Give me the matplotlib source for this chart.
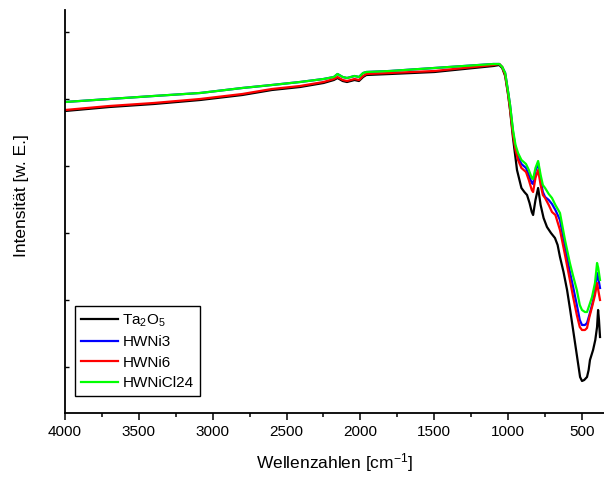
import matplotlib
matplotlib.use('Agg')
import matplotlib.pyplot as plt
from matplotlib.ticker import MultipleLocator, FixedLocator

plt.rcParams['font.family'] = 'Liberation Sans'
plt.rcParams['mathtext.fontset'] = 'custom'
plt.rcParams['mathtext.rm'] = 'Liberation Sans'
plt.rcParams['mathtext.it'] = 'Liberation Sans'

# wavenumbers [cm-1] and intensities (arbitrary units)
wn_hi = [4000, 3700, 3400, 3086, 2800, 2600, 2409, 2250, 2180, 2155, 2120, 2091,
         2040, 2010, 1982, 1960, 1800, 1500, 1300, 1100, 1060, 1040, 1020, 1000, 987]
ta_hi = [302, 306, 309, 313, 318, 323, 326, 330, 333, 335, 332, 331,
         333, 332, 336, 338, 339, 341, 344, 347, 348, 345, 337, 318, 303]
ni_hi = [311, 314, 317, 320, 325, 328, 331, 334, 336, 339, 336, 335,
         337, 336, 340, 341, 342, 345, 347, 349, 349, 346, 340, 321, 308]

wn_ta = [967, 950, 940, 910, 890, 872, 855, 840, 831, 815, 797, 780, 760, 737,
         710, 683, 665, 649, 625, 601, 580, 560, 535, 513, 500, 485, 466, 455,
         446, 425, 410, 398, 391, 385, 378]
ta_lo = [275, 255, 243, 225, 221, 218, 210, 201, 198, 213, 225, 208, 195, 186,
         180, 175, 168, 156, 141, 123, 103, 83, 58, 36, 32, 33, 36, 43,
         53, 63, 73, 86, 103, 93, 76]

wn_ni = [967, 950, 933, 910, 879, 860, 840, 831, 815, 797, 780, 765, 750, 725,
         703, 680, 649, 615, 582, 560, 535, 515, 500, 480, 466, 450, 432, 412,
         398, 390, 378]
hwni3 = [281, 265, 256, 249, 245, 238, 230, 229, 242, 250, 233, 221, 216, 213,
         209, 203, 193, 166, 141, 126, 108, 93, 88, 88, 90, 98, 108, 121,
         140, 135, 125]
hwni6 = [278, 263, 253, 245, 241, 233, 223, 221, 235, 243, 228, 218, 215, 208,
         201, 198, 183, 158, 133, 116, 98, 86, 83, 83, 85, 96, 106, 118,
         130, 123, 113]
hwnicl24 = [283, 268, 260, 253, 249, 243, 235, 234, 245, 252, 238, 228, 225, 219,
            215, 208, 200, 173, 150, 137, 123, 108, 103, 101, 101, 108, 116, 130,
            150, 145, 133]

series = [
    ('Ta$_2$O$_5$', ta_hi, wn_ta, ta_lo, 'black'),
    ('HWNi3', ni_hi, wn_ni, hwni3, '#0000ff'),
    ('HWNi6', [v + 1 for v in ta_hi], wn_ni, hwni6, '#ff0000'),
    ('HWNiCl24', ni_hi, wn_ni, hwnicl24, '#00ff00'),
]

fig = plt.figure(figsize=(6.04, 4.83), dpi=100)
ax = fig.add_axes([65 / 604, 70 / 483, 539 / 604, 403 / 483])

for label, hi, wlo, lo, col in series:
    ax.plot(wn_hi + wlo, hi + lo, color=col, lw=1.6, label=label)

ax.set_xlim(4000, 351)
ax.set_ylim(0, 403)
ax.spines['top'].set_visible(False)
ax.spines['right'].set_visible(False)
ax.spines['left'].set_linewidth(1.3)
ax.spines['bottom'].set_linewidth(1.3)

ax.xaxis.set_major_locator(MultipleLocator(500))
ax.xaxis.set_minor_locator(MultipleLocator(250))
ax.tick_params(axis='x', which='major', direction='out', length=5, width=1.1,
               labelsize=11, pad=4)
ax.tick_params(axis='x', which='minor', direction='out', length=3, width=1.1)
ax.yaxis.set_major_locator(FixedLocator([46, 113, 180, 247, 314, 381]))
ax.tick_params(axis='y', which='major', direction='in', length=3, width=1,
               labelleft=False)

ax.set_xlabel('Wellenzahlen [cm$^{-1}$]', fontsize=12.5, labelpad=8)
ax.set_ylabel('Intensität [w. E.]', fontsize=12.5)
ax.yaxis.set_label_coords(-0.066, 0.54)

leg = ax.legend(loc='lower left', bbox_to_anchor=(0.0186, 0.042), borderaxespad=0,
                fontsize=11, fancybox=False, edgecolor='black', framealpha=1,
                handlelength=2.4, handletextpad=0.3, labelspacing=0.42,
                borderpad=0.4)
leg.get_frame().set_linewidth(1.0)

fig.savefig('out.png', dpi=100)
